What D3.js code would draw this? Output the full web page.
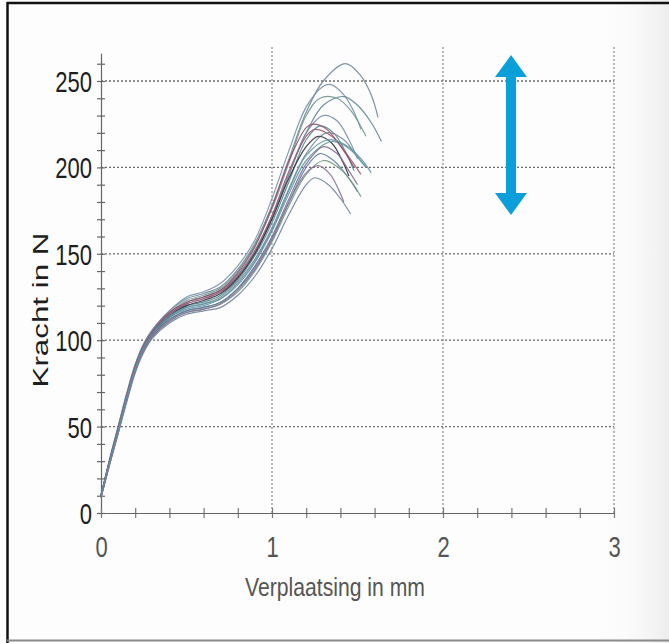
<!DOCTYPE html>
<html>
<head>
<meta charset="utf-8">
<script src="https://cdn.jsdelivr.net/npm/d3@7"></script>
<style>
  html, body { margin: 0; padding: 0; background: #fff; }
  svg { display: block; }
</style>
</head>
<body>
<div id="chartArea"><svg id="chart"></svg></div>
<script>
// displacement (mm) / force (N) pairs
const curve01 = [[0,10],[0.05,31],[0.1,50],[0.15,69],[0.2,86],[0.25,98],[0.3,106],[0.4,117],[0.5,124],[0.6,127],[0.7,131],[0.8,141],[0.9,156],[1.0,178],[1.1,205],[1.2,232],[1.3,250],[1.43,260],[1.52,253],[1.58,242],[1.62,229]];
const curve02 = [[0,10],[0.05,31],[0.1,50],[0.15,69],[0.2,86],[0.25,98],[0.3,106],[0.4,117],[0.5,125],[0.6,128],[0.7,133],[0.8,143],[0.9,158],[1.0,182],[1.1,210],[1.2,235],[1.3,247],[1.34,248],[1.42,242],[1.48,232],[1.52,222]];
const curve03 = [[0,10],[0.05,30],[0.1,49],[0.15,68],[0.2,85],[0.25,97],[0.3,105],[0.4,115],[0.5,122],[0.6,125],[0.7,129],[0.8,138],[0.9,152],[1.0,172],[1.1,196],[1.2,220],[1.3,236],[1.42,241],[1.5,236],[1.58,226],[1.64,215]];
const curve04 = [[0,10],[0.05,30],[0.1,49],[0.15,68],[0.2,85],[0.25,97],[0.3,105],[0.4,116],[0.5,123],[0.6,126],[0.7,130],[0.8,140],[0.9,155],[1.0,176],[1.1,203],[1.2,230],[1.28,240],[1.38,240],[1.46,233],[1.55,218]];
const curve05 = [[0,9],[0.05,30],[0.1,49],[0.15,68],[0.2,85],[0.25,97],[0.3,105],[0.4,115],[0.5,121],[0.6,124],[0.7,128],[0.8,137],[0.9,151],[1.0,171],[1.1,196],[1.2,220],[1.3,230],[1.38,227],[1.45,216],[1.5,205]];
const curve06 = [[0,10],[0.05,30],[0.1,48],[0.15,67],[0.2,84],[0.25,96],[0.3,104],[0.4,114],[0.5,120],[0.6,122],[0.7,126],[0.8,135],[0.9,149],[1.0,168],[1.1,192],[1.2,216],[1.28,224],[1.36,220],[1.43,209],[1.48,198]];
const curve07 = [[0,10],[0.05,30],[0.1,48],[0.15,67],[0.2,84],[0.25,96],[0.3,104],[0.4,115],[0.5,121],[0.6,124],[0.7,128],[0.8,137],[0.9,151],[1.0,172],[1.1,198],[1.2,218],[1.25,222],[1.35,218],[1.45,206],[1.52,196]];
const curve08 = [[0,9],[0.05,29],[0.1,48],[0.15,66],[0.2,83],[0.25,95],[0.3,103],[0.4,113],[0.5,119],[0.6,121],[0.7,125],[0.8,134],[0.9,147],[1.0,165],[1.1,188],[1.2,208],[1.32,220],[1.42,216],[1.5,206],[1.55,200]];
const curve09 = [[0,10],[0.05,30],[0.1,48],[0.15,67],[0.2,84],[0.25,96],[0.3,104],[0.4,114],[0.5,120],[0.6,123],[0.7,127],[0.8,136],[0.9,150],[1.0,170],[1.1,194],[1.2,212],[1.27,218],[1.35,214],[1.41,204],[1.45,195]];
const curve10 = [[0,9],[0.05,29],[0.1,47],[0.15,66],[0.2,83],[0.25,95],[0.3,103],[0.4,113],[0.5,118],[0.6,120],[0.7,124],[0.8,132],[0.9,145],[1.0,163],[1.1,185],[1.2,204],[1.35,215],[1.45,211],[1.5,206],[1.55,200]];
const curve11 = [[0,9],[0.05,29],[0.1,47],[0.15,66],[0.2,83],[0.25,95],[0.3,103],[0.4,112],[0.5,117],[0.6,119],[0.7,122],[0.8,130],[0.9,143],[1.0,160],[1.1,182],[1.2,202],[1.3,212],[1.38,208],[1.45,198],[1.5,190]];
const curve12 = [[0,9],[0.05,29],[0.1,47],[0.15,65],[0.2,82],[0.25,94],[0.3,102],[0.4,112],[0.5,117],[0.6,119],[0.7,122],[0.8,130],[0.9,142],[1.0,159],[1.1,180],[1.2,200],[1.28,208],[1.36,204],[1.44,195],[1.5,186]];
const curve13 = [[0,9],[0.05,28],[0.1,46],[0.15,65],[0.2,82],[0.25,94],[0.3,102],[0.4,111],[0.5,116],[0.6,118],[0.7,121],[0.8,128],[0.9,140],[1.0,157],[1.1,178],[1.2,196],[1.3,204],[1.4,199],[1.47,191],[1.52,183]];
const curve14 = [[0,9],[0.05,28],[0.1,46],[0.15,65],[0.2,82],[0.25,94],[0.3,102],[0.4,111],[0.5,116],[0.6,118],[0.7,121],[0.8,129],[0.9,141],[1.0,158],[1.1,180],[1.2,197],[1.27,201],[1.34,196],[1.39,187],[1.42,180]];
const curve15 = [[0,9],[0.05,28],[0.1,46],[0.15,64],[0.2,81],[0.25,93],[0.3,101],[0.4,110],[0.5,115],[0.6,117],[0.7,119],[0.8,126],[0.9,137],[1.0,153],[1.1,173],[1.2,190],[1.25,194],[1.33,190],[1.4,182],[1.46,173]];
const curve16 = [[0,10],[0.05,30],[0.1,49],[0.15,68],[0.2,85],[0.25,97],[0.3,105],[0.4,116],[0.5,122],[0.6,125],[0.7,129],[0.8,139],[0.9,154],[1.0,177],[1.1,204],[1.2,223],[1.24,225],[1.32,222],[1.41,211],[1.48,200]];
const curve17 = [[0,10],[0.05,30],[0.1,48],[0.15,67],[0.2,84],[0.25,96],[0.3,104],[0.4,114],[0.5,119],[0.6,121],[0.7,124],[0.8,133],[0.9,146],[1.0,164],[1.1,187],[1.2,207],[1.33,216],[1.43,213],[1.52,205],[1.58,197]];

const curves = [curve01, curve02, curve03, curve04, curve05, curve06, curve07, curve08, curve09,
                curve10, curve11, curve12, curve13, curve14, curve15, curve16, curve17];
const curveColors = ["#71859b", "#7891a6", "#5f8595", "#6f9a90", "#7a8daa", "#4f8a8e", "#a05572",
                     "#7d8a9e", "#2f2f38", "#5f9898", "#7f6b9a", "#5f7fa3", "#6f9a7e", "#8a7196",
                     "#6e8299", "#92506a", "#5f96aa"];

const xMajor = [0, 1, 2, 3];
const xMinor = [0.2, 0.4, 0.6, 0.8, 1.2, 1.4, 1.6, 1.8, 2.2, 2.4, 2.6, 2.8];
const yMajor = [0, 50, 100, 150, 200, 250];
const yMinor = [10, 20, 30, 40, 60, 70, 80, 90, 110, 120, 130, 140, 160, 170, 180, 190, 210, 220, 230, 240, 260];
const xTitle = "Verplaatsing in mm";
const yTitle = "Kracht in N";

const width = 669, height = 643;
const svg = d3.select("#chart").attr("width", width).attr("height", height);

// off-white scan background with a soft shadow to the right
const defs = svg.append("defs");
const grad = defs.append("linearGradient").attr("id", "edge").attr("x1", 0).attr("x2", 1);
grad.append("stop").attr("offset", 0).attr("stop-color", "#fdfdfd").attr("stop-opacity", 0);
grad.append("stop").attr("offset", 1).attr("stop-color", "#ededed");
svg.append("rect").attr("width", width).attr("height", height).attr("fill", "#fdfdfd");
svg.append("rect").attr("x", 600).attr("width", 69).attr("height", height).attr("fill", "url(#edge)");

// frame of the scan
svg.append("line").attr("x1", 7.5).attr("x2", 7.5).attr("y1", 2).attr("y2", 643).attr("stroke", "#111").attr("stroke-width", 2.5);
svg.append("line").attr("x1", 7).attr("x2", 669).attr("y1", 3).attr("y2", 3).attr("stroke", "#111").attr("stroke-width", 2.5);
svg.append("line").attr("x1", 7).attr("x2", 669).attr("y1", 640.5).attr("y2", 640.5).attr("stroke", "#8a8a8a").attr("stroke-width", 2);

const x = d3.scaleLinear().domain([0, 3]).range([101, 614]);
const y = d3.scaleLinear().domain([0, 266]).range([513, 513 - 266 * 1.728]);

const g = svg.append("g");

// dotted grid
g.selectAll(".hgrid").data(yMajor.filter(d => d > 0)).enter().append("line")
  .attr("x1", x(0)).attr("x2", x(3))
  .attr("y1", d => y(d)).attr("y2", d => y(d))
  .attr("stroke", "#6a6a6a").attr("stroke-width", 1.3).attr("stroke-dasharray", "2,2");
g.selectAll(".vgrid").data(xMajor.filter(d => d > 0)).enter().append("line")
  .attr("x1", d => x(d)).attr("x2", d => x(d))
  .attr("y1", y(0)).attr("y2", y(270))
  .attr("stroke", "#8a8a8a").attr("stroke-width", 1.2).attr("stroke-dasharray", "2,2");

// condensed look of the scanned Helvetica: Liberation Sans squeezed horizontally
const axisFont = '"Liberation Sans", Arial, sans-serif';
const squeeze = 0.76;

const yAxisL = g.append("g").attr("transform", `translate(${x(0)},0)`)
  .call(d3.axisLeft(y).tickValues(yMajor.concat(yMinor)).tickSize(4).tickSizeOuter(0).tickFormat(d => d % 50 === 0 ? d : ""));
g.append("g").attr("transform", `translate(${x(0)},0)`)
  .call(d3.axisRight(y).tickValues(yMajor.concat(yMinor)).tickSize(4).tickSizeOuter(0).tickFormat(""))
  .selectAll("line").attr("stroke", "#666").attr("stroke-width", 1.2);
yAxisL.selectAll("path, line").attr("stroke", "#666").attr("stroke-width", 1.2);
yAxisL.selectAll("text").attr("x", 0).attr("dy", "0.36em")
  .attr("transform", `translate(-9,0) scale(${squeeze},1)`)
  .attr("font-size", 29).attr("fill", "#1e1e1e").attr("font-family", axisFont);

const xAxisB = g.append("g").attr("transform", `translate(0,${y(0)})`)
  .call(d3.axisBottom(x).tickValues(xMajor.concat(xMinor)).tickSize(5).tickSizeOuter(0).tickFormat(d => Number.isInteger(d) ? d : ""));
g.append("g").attr("transform", `translate(0,${y(0)})`)
  .call(d3.axisTop(x).tickValues(xMajor.concat(xMinor)).tickSize(5).tickSizeOuter(0).tickFormat(""))
  .selectAll("line").attr("stroke", "#777").attr("stroke-width", 1.2);
xAxisB.selectAll("path, line").attr("stroke", "#777").attr("stroke-width", 1.2);
xAxisB.selectAll("text").attr("y", 0).attr("dy", "0.36em")
  .attr("transform", `translate(0,34) scale(${squeeze},1)`)
  .attr("font-size", 29).attr("fill", "#555").attr("font-family", axisFont);
g.selectAll(".domain").attr("stroke", "#666");

// the test curves
const line = d3.line()
  .x(d => x(d[0]))
  .y(d => y(d[1]))
  .curve(d3.curveCatmullRom.alpha(0.5));

g.selectAll(".curve").data(curves).enter().append("path")
  .attr("class", "curve")
  .attr("d", line)
  .attr("fill", "none")
  .attr("stroke", (d, i) => curveColors[i])
  .attr("stroke-width", 1.2)
  .attr("opacity", 0.9);

// titles
svg.append("text").attr("x", 335).attr("y", 596).attr("text-anchor", "middle")
  .attr("textLength", 180).attr("lengthAdjust", "spacingAndGlyphs")
  .attr("font-family", axisFont).attr("font-size", 25).attr("fill", "#555").text(xTitle);
svg.append("text").attr("transform", "translate(48,310) rotate(-90)").attr("text-anchor", "middle")
  .attr("textLength", 155).attr("lengthAdjust", "spacingAndGlyphs")
  .attr("font-family", axisFont).attr("font-size", 22).attr("fill", "#1e1e1e").text(yTitle);

// blue double arrow
const ax = 511, aTop = 55, aBot = 215, head = 22, hw = 16, sw = 5;
svg.append("path")
  .attr("d", `M${ax},${aTop} L${ax + hw},${aTop + head} L${ax + sw},${aTop + head} L${ax + sw},${aBot - head}
              L${ax + hw},${aBot - head} L${ax},${aBot} L${ax - hw},${aBot - head} L${ax - sw},${aBot - head}
              L${ax - sw},${aTop + head} L${ax - hw},${aTop + head} Z`)
  .attr("fill", "#0a9fd9");
</script>
</body>
</html>
